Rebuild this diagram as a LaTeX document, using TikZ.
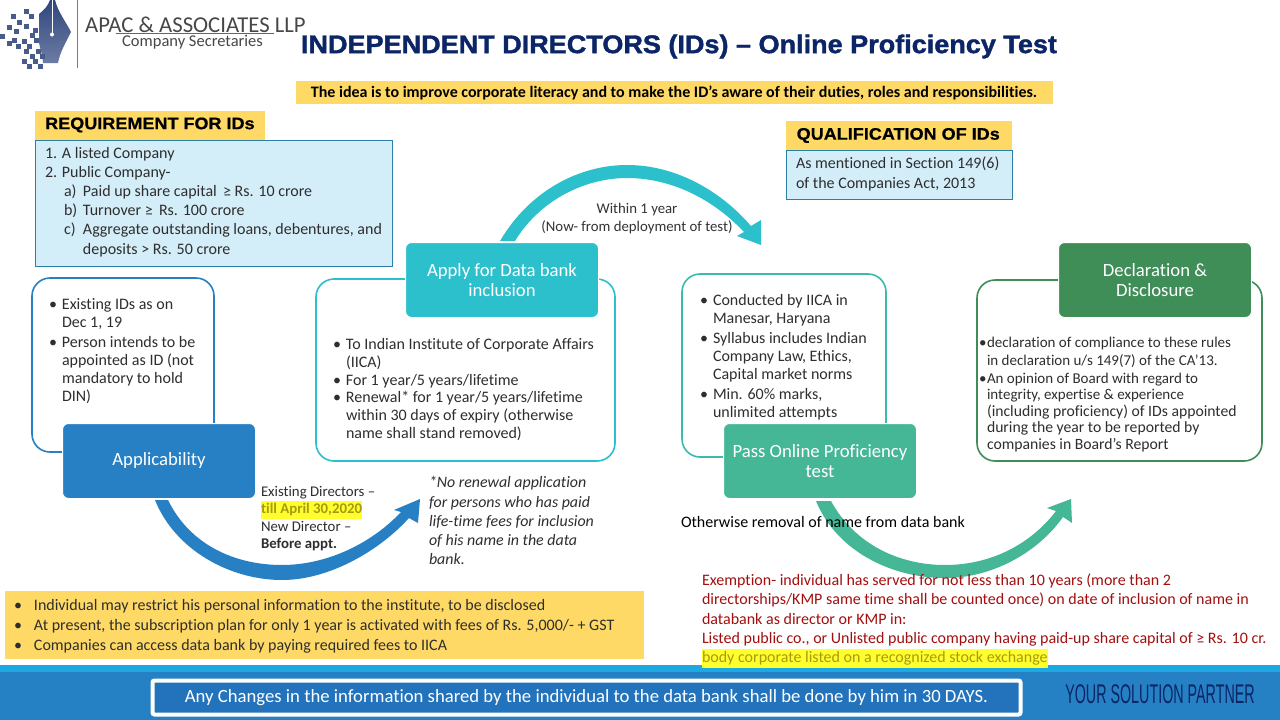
\documentclass[tikz,border=0pt]{standalone}
\usepackage{fontspec}
\setmainfont[Ligatures=NoCommon]{Carlito}
\newfontfamily\titlefont[UprightFont=* Bold,FakeBold=1.5,FakeStretch=1.06]{Liberation Sans}
\newfontfamily\headfont[UprightFont=* Bold,FakeBold=.6,FakeStretch=1.08]{Liberation Sans}
\newfontfamily\tagfont{Liberation Sans}
\definecolor{cyell}{HTML}{FFD966}
\definecolor{cltblue}{HTML}{D4EEF9}
\definecolor{cblue}{HTML}{2780C4}
\definecolor{cboxline}{HTML}{2B7FA8}
\definecolor{cteal}{HTML}{2CC0CC}
\definecolor{cgreen}{HTML}{45B797}
\definecolor{cdgreen}{HTML}{3F8D57}
\definecolor{cnavy}{HTML}{0B2566}
\definecolor{cstrip}{HTML}{1CA8E0}
\definecolor{cred}{HTML}{A30F0F}
\definecolor{chl}{HTML}{FFFF2E}
\definecolor{chltext}{HTML}{A89A10}
\definecolor{cbar}{HTML}{2581C4}
\definecolor{cinner}{HTML}{2273BC}
\newcommand{\hlite}[1]{{\setlength{\fboxsep}{0pt}\colorbox{chl}{\strut\textcolor{chltext}{#1}}}}
\newcommand{\bitem}[1]{\makebox[#1][l]{\textbullet}}
\tikzset{
 txt/.style={anchor=north west,inner sep=0pt,outer sep=0pt,align=left,text=black!82,font=\fontsize{16}{18}\selectfont},
 outl/.style={draw=#1,line width=1.6pt,rounded corners=18pt,fill=white},
 filled/.style={draw=white,line width=1pt,fill=#1,rounded corners=6pt,text=white,align=center,font=\fontsize{18.7}{20.5}\selectfont,minimum width=193pt,minimum height=75pt,inner sep=0pt},
 headbox/.style={fill=cyell,anchor=north west,inner sep=0pt},
 headtext/.style={anchor=west,inner sep=0pt,font=\headfont\fontsize{16.7}{19}\selectfont,text=black},
 bluebox/.style={draw=cboxline,line width=1pt,fill=cltblue,anchor=north west,inner sep=0pt},
}
\begin{document}
\begin{tikzpicture}[x=1pt,y=-1pt]
\useasboundingbox (0,0) rectangle (1280,720);
\fill[white] (0,0) rectangle (1280,720);
% logo
\shade[top color=cnavy!85!white,bottom color=cnavy!60!white] (50,0) -- (55,0) .. controls (58,12) and (66,22) .. (71,32) .. controls (66,42) and (60,52) .. (58,63) -- (43,63) .. controls (42,50) and (38,45) .. (39,38) -- (39,14) .. controls (44,10) and (48,6) .. (50,0) -- cycle;
\draw[white,line width=.8pt] (52,0) -- (52,33);
\fill[white] (52,34.5) circle (2pt);
\foreach \sx/\sy in {11/14,24/9,29/14,17/20,24/24,7/25,33/28,14/29,0/34,12/38,22/39,7/41,16/44,27/44,24/49,36/49,30/54,22/59,33/59,40/54,38/64,27/64,34/38,30/33}{
  \fill[cnavy!75!white] (\sx,\sy) rectangle +(5,5);
}
\draw[cnavy!60!white,line width=1pt] (77,0) -- (77,68);
\node[anchor=west,inner sep=0pt,text=black!72,font=\fontsize{22.7}{24}\selectfont] (lname) at (85,24.5) {APAC \& ASSOCIATES LLP};
\draw[black!60,line width=.6pt] (116,33.5) -- (274,33.5);
\node[anchor=west,inner sep=0pt,text=black!72,font=\fontsize{16.5}{18}\selectfont] (lsub) at (122,42) {Company Secretaries};
% title
\node[anchor=center,inner sep=0pt,text=cnavy,font=\titlefont\fontsize{25.5}{28}\selectfont] (title) at (679,46.5) {INDEPENDENT DIRECTORS (IDs) – Online Proficiency Test};
\node[fill=cyell,anchor=center,minimum width=757pt,minimum height=23pt,inner sep=0pt,font=\bfseries\fontsize{16}{18}\selectfont,text=black] (idea) at (674,92.5) {The idea is to improve corporate literacy and to make the ID’s aware of their duties, roles and responsibilities.};
% requirement
\node[headbox,minimum width=230pt,minimum height=29pt] (reqh) at (35,111) {};
\node[headtext] (reqhtext) at (45,125) {REQUIREMENT FOR IDs};
\node[bluebox,minimum width=357pt,minimum height=126pt] (reqb) at (35,140) {};
\node[txt,font=\fontsize{16}{18.2}\selectfont] (reqt) at (45,147) {1. A listed Company\\[1pt]
2. Public Company-\\[1pt]
\hspace*{19pt}\makebox[19pt][l]{a)}Paid up share capital \,≥ Rs. 10 crore\\[1pt]
\hspace*{19pt}\makebox[19pt][l]{b)}Turnover ≥ \,Rs. 100 crore\\[1pt]
\hspace*{19pt}\makebox[19pt][l]{c)}Aggregate outstanding loans, debentures, and\\[1pt]
\hspace*{38pt}deposits > Rs. 50 crore};
% qualification
\node[headbox,minimum width=226pt,minimum height=29pt] (qualh) at (786,121) {};
\node[headtext] (qualhtext) at (796.5,135.5) {QUALIFICATION OF IDs};
\node[bluebox,minimum width=226pt,minimum height=49pt] (qualb) at (786,150) {};
\node[txt] (qualt) at (796,157) {As mentioned in Section 149(6)\\[2pt]of the Companies Act, 2013};
% arrows behind boxes
\fill[cteal] (500,241) .. controls (530,190) and (580,165) .. (627,165) .. controls (675,165) and (720,190) .. (751,226) -- (761,220) -- (761,245) -- (737,236) -- (744,232) .. controls (712,198) and (670,178) .. (627,178) .. controls (585,178) and (540,200) .. (515,241) -- cycle;
\fill[cblue] (155,500) .. controls (175,550) and (230,580) .. (282,580) .. controls (330,580) and (380,550) .. (409,518) -- (418,523) -- (420,499) -- (394,510) -- (401,512) .. controls (370,545) and (325,565) .. (282,565) .. controls (235,565) and (190,545) .. (168,500) -- cycle;
\fill[cgreen] (816,501) .. controls (836,550) and (890,578) .. (945,578) .. controls (995,578) and (1040,550) .. (1063,517) -- (1072,523) -- (1071,499) -- (1047,508) -- (1056,511) .. controls (1030,545) and (990,565) .. (945,565) .. controls (900,565) and (855,545) .. (831,501) -- cycle;
% applicability
\draw[outl=cblue] (32,278) rectangle (214,452);
\node[filled=cblue] (appl) at (159,461) {Applicability};
\node[txt] (applt) at (49,298.5) {\bitem{13pt}Existing IDs as on\\
\hspace*{13pt}Dec 1, 19\\[2pt]
\bitem{13pt}Person intends to be\\
\hspace*{13pt}appointed as ID (not\\
\hspace*{13pt}mandatory to hold\\
\hspace*{13pt}DIN)};
% data bank
\draw[outl=cteal] (316,279) rectangle (615,461);
\node[filled=cteal] (apply) at (502,280) {Apply for Data bank\\inclusion};
\node[txt,font=\fontsize{16}{17.7}\selectfont] (applyt) at (333,338.5) {\bitem{13pt}To Indian Institute of Corporate Affairs\\
\hspace*{13pt}(IICA)\\
\bitem{13pt}For 1 year/5 years/lifetime\\
\bitem{13pt}Renewal* for 1 year/5 years/lifetime\\
\hspace*{13pt}within 30 days of expiry (otherwise\\
\hspace*{13pt}name shall stand removed)};
% test
\draw[draw=cgreen!60!cteal,line width=1.6pt,rounded corners=18pt,fill=white] (682,274) rectangle (886,457);
\node[filled=cgreen] (pass) at (820,461) {Pass Online Proficiency\\test};
\node[txt] (passt) at (700,294.5) {\bitem{13pt}Conducted by IICA in\\
\hspace*{13pt}Manesar, Haryana\\[2pt]
\bitem{13pt}Syllabus includes Indian\\
\hspace*{13pt}Company Law, Ethics,\\
\hspace*{13pt}Capital market norms\\[2pt]
\bitem{13pt}Min. 60\% marks,\\
\hspace*{13pt}unlimited attempts};
% declaration
\draw[outl=cdgreen] (977,280) rectangle (1262,461);
\node[filled=cdgreen] (decl) at (1155,280) {Declaration \&\\Disclosure};
\node[txt,font=\fontsize{15}{16.6}\selectfont] (declt) at (979,337.5) {\makebox[8pt][l]{\textbullet}declaration of compliance to these rules\\[1pt]
\hspace*{8pt}in declaration u/s 149(7) of the CA’13.\\[1pt]
\makebox[8pt][l]{\textbullet}An opinion of Board with regard to\\
\hspace*{8pt}integrity, expertise \& experience\\
\hspace*{8pt}{\fontsize{15.7}{16.6}\selectfont (including proficiency) of IDs appointed}\\
\hspace*{8pt}{\fontsize{15.7}{16.6}\selectfont during the year to be reported by}\\
\hspace*{8pt}{\fontsize{15.7}{16.6}\selectfont companies in Board’s Report}};
% free labels
\node[inner sep=0pt,align=center,text=black!80,font=\fontsize{14.8}{18}\selectfont] (within) at (637,219) {Within 1 year\\(Now- from deployment of test)};
\node[txt,font=\fontsize{14.8}{17.6}\selectfont] (exist) at (261,486) {Existing Directors –\\
\hlite{\bfseries till April 30,2020}\\
New Director –\\
\textbf{Before appt.}};
\node[txt,font=\itshape\fontsize{15.9}{19.3}\selectfont] (norenew) at (429,476.5) {*No renewal application\\
for persons who has paid\\
life-time fees for inclusion\\
of his name in the data\\
bank.};
\node[anchor=north west,fill=cyell,minimum width=639pt,minimum height=68pt,inner sep=0pt] (notes) at (5,591) {};
\node[txt] (notest) at (14,599) {\bitem{20pt}Individual may restrict his personal information to the institute, to be disclosed\\[2pt]
\bitem{20pt}At present, the subscription plan for only 1 year is activated with fees of Rs. 5,000/- + GST\\[2pt]
\bitem{20pt}Companies can access data bank by paying required fees to IICA};
\node[txt,text=black] (other) at (681,516) {Otherwise removal of name from data bank};
% bottom bar
\fill[cbar] (0,665) rectangle (1280,720);
\fill[cstrip] (0,665) rectangle (1280,672);
\node[txt,text=cred,font=\fontsize{16}{19.2}\selectfont] (exem) at (702,574) {Exemption- individual has served for not less than 10 years (more than 2\\
directorships/KMP same time shall be counted once) on date of inclusion of name in\\
databank as director or KMP in:\\
Listed public co., or Unlisted public company having paid-up share capital of ≥ Rs. 10 cr.\\
\hlite{body corporate listed on a recognized stock exchange}};
\node[draw=white,line width=4pt,fill=cinner,rounded corners=2pt,anchor=center,minimum width=868pt,minimum height=34pt,inner sep=0pt,text=white,font=\fontsize{18.7}{20}\selectfont] (chg) at (586.5,697.5) {Any Changes in the information shared by the individual to the data bank shall be done by him in 30 DAYS.};
\node[inner sep=0pt,text=cnavy,anchor=center] (tag) at (1160,694) {\scalebox{.53}[1]{\tagfont\fontsize{27}{29}\selectfont YOUR SOLUTION PARTNER}};
\end{tikzpicture}
\end{document}
